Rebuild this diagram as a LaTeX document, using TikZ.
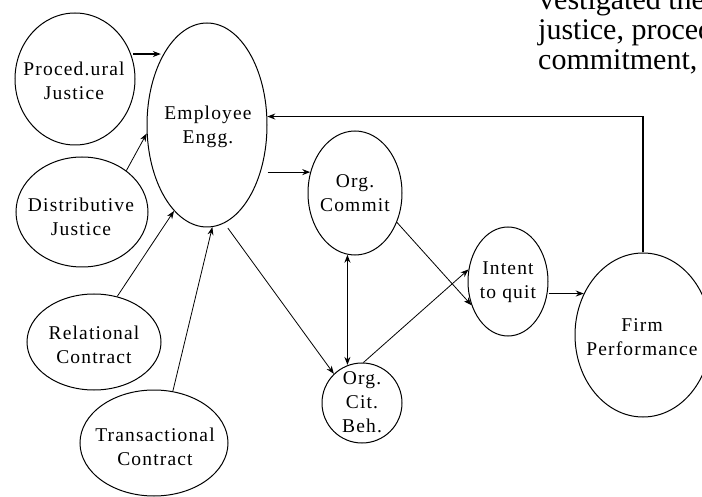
\documentclass[tikz,border=0pt]{standalone}
\usepackage{fontspec}
\setmainfont{Liberation Serif}
\newfontfamily\diagfont[LetterSpace=6]{Liberation Serif}
\usetikzlibrary{arrows.meta,shapes.geometric}
\begin{document}
\begin{tikzpicture}[x=1pt,y=-1pt,
  ell/.style={draw, ellipse, line width=1pt, inner sep=0pt},
  lbl/.style={font=\diagfont\fontsize{19.5}{24}\selectfont, align=center, inner sep=0pt},
  top/.style={font=\fontsize{30}{30}\selectfont, anchor=base west, inner sep=0pt},
  tip/.style={-{Stealth[length=8pt,width=6pt]}},
  thin/.style={tip, line width=0.8pt},
  thick/.style={tip, line width=1.2pt},
  both/.style={{Stealth[length=8pt,width=6pt]}-{Stealth[length=8pt,width=6pt]}, line width=1.3pt}]
\useasboundingbox (0,0) rectangle (702,497);
\clip (0,0) rectangle (702,497);

% ellipses
\node[ell, minimum width=120pt, minimum height=132pt] (proc) at (75,79) {};
\node[ell, minimum width=120pt, minimum height=204pt] (emp) at (207,125) {};
\node[ell, minimum width=132pt, minimum height=110pt] (dist) at (82,212) {};
\node[ell, minimum width=134pt, minimum height=96pt] (rel) at (94,342) {};
\node[ell, minimum width=148pt, minimum height=106pt] (trans) at (154,443) {};
\node[ell, minimum width=94pt, minimum height=124pt] (oc) at (355,193) {};
\node[ell, minimum width=80pt, minimum height=80pt] (ocb) at (362,403) {};
\node[ell, minimum width=80pt, minimum height=109pt] (iq) at (508,281.5) {};
\node[ell, minimum width=136pt, minimum height=164pt] (fp) at (643,335) {};

% labels
\node[lbl] (proct) at (74,80.4) {Proced.ural\\Justice};
\node[lbl] (empt) at (208,126.5) {Employee\\Engg.};
\node[lbl] (distt) at (81,216.4) {Distributive\\Justice};
\node[lbl] (relt) at (94,344.4) {Relational\\Contract};
\node[lbl] (transt) at (155,446.9) {Transactional\\Contract};
\node[lbl] (oct) at (355,193.5) {Org.\\Commit};
\node[lbl] (ocbt) at (362,402) {Org.\\Cit.\\Beh.};
\node[lbl] (iqt) at (508,282.2) {Intent\\to quit};
\node[lbl] (fpt) at (642,336.9) {Firm\\Performance};

% clipped page text
\node[top] (t1) at (539,10) {vestigated the};
\node[top] (t2) at (538,40) {justice, proced};
\node[top] (t3) at (538,69.5) {commitment,};

% connectors
\draw[thick, shorten <=2pt, shorten >=3pt] (proc.24) -- (proc.24 -| emp.121);
\draw[thin] (dist.43) -- (emp.188);
\draw[thin] (rel.63) -- (emp.249);
\draw[thin] (trans.70) -- (emp.273);
\draw[thin, shorten <=6pt] (emp.280) -- (ocb.134);
\draw[thick] (emp.east |- oc.155) -- (oc.155);
\draw[both] (oc.263) -- (oc.263 |- ocb.110);
\draw[thin] (oc.325) -- (iq.213);
\draw[thin] (ocb.88) -- (iq.163);
\draw[thick] (iq.east |- fp.145) -- (fp.145);
\draw[tip, line width=1.5pt] (fp.north) |- (emp.8);
\end{tikzpicture}
\end{document}
